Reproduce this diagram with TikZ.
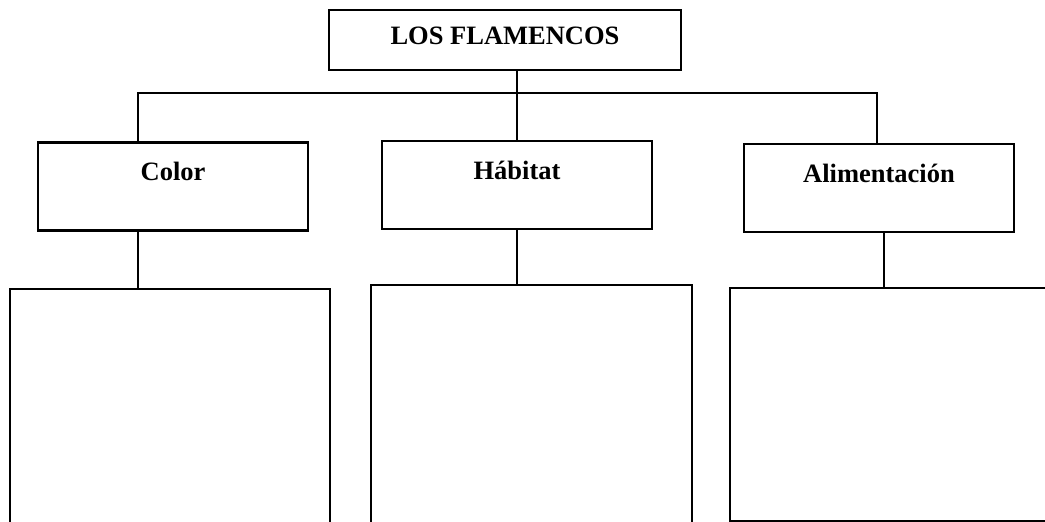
\documentclass[tikz,border=0pt]{standalone}
\usepackage{fontspec}
\setmainfont{Liberation Serif}
\usepackage{tikz}
\usetikzlibrary{calc}
\newcommand{\bigfont}{\bfseries\fontsize{26.5}{30}\selectfont}
\tikzset{
	titlebox/.style={draw,line width=2.5pt,minimum width=352pt,minimum height=60pt,font=\bigfont,text height=18pt,text depth=9pt,inner sep=0pt},
	catbox/.style={draw,line width=2.5pt,minimum width=270pt,minimum height=88pt,font=\bigfont,text height=18pt,text depth=30pt,inner sep=0pt},
	detbox/.style={draw,line width=2pt,anchor=north,inner sep=0pt},
	link/.style={line width=1.7pt}
}

\begin{document}
\begin{tikzpicture}[x=1pt,y=-1pt]
		\useasboundingbox (0,0) rectangle (1045,522);
		\clip (0,0) rectangle (1045,522);
		
		\node[titlebox] (title) at (505,40) {LOS FLAMENCOS};
		
		\node[catbox] (color) at (173,186.5) {Color};
		\node[catbox] (habitat) at (517,185) {Hábitat};
		\node[catbox] (alim) at (879,188) {Alimentación};
		
		\node[detbox,minimum width=320pt,minimum height=300pt] (colordet) at (170,288) {};
		\node[detbox,minimum width=321pt,minimum height=300pt] (habdet) at (531.5,284) {};
		\node[detbox,minimum width=330pt,minimum height=233pt] (alimdet) at (895,287) {};
		
		\coordinate (jl) at (138,93);
		\coordinate (jr) at (877,93);
		
		\draw[link] (habitat.north) -- (habitat.north |- title.south);
		\draw[link] (color.north -| jl) -- (jl) -- (jr) -- (jr |- alim.north);
		
		\draw[link] (color.south -| jl) -- (jl |- colordet.north);
		\draw[link] (habitat.south) -- (habitat.south |- habdet.north);
		\draw[link] ($(alim.south)+(5,0)$) -- ($(alim.south |- alimdet.north)+(5,0)$);
		
	\end{tikzpicture}
\end{document}
